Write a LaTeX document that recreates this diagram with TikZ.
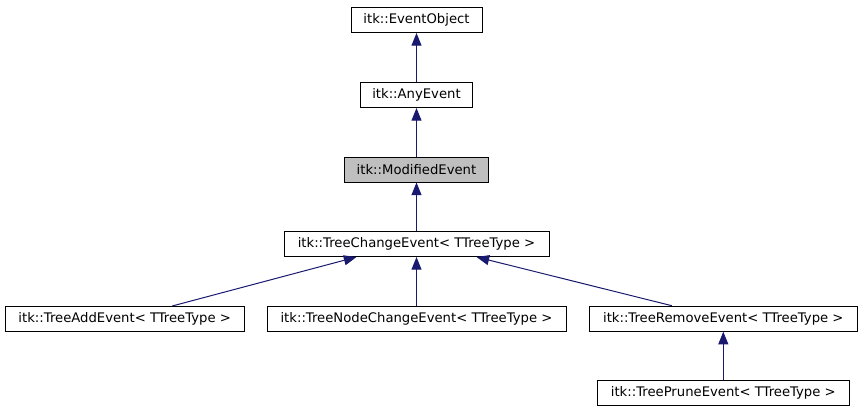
\documentclass[tikz,border=0pt]{standalone}
\usepackage{fontspec}
\setmainfont{DejaVu Sans}
\usetikzlibrary{arrows.meta,calc}
\definecolor{edgeblue}{HTML}{191970}
\definecolor{hilite}{HTML}{BFBFBF}
\begin{document}
\begin{tikzpicture}[x=0.75pt,y=-0.75pt,
  cls/.style={draw=black,line width=0.75pt,fill=white,inner sep=0pt,
    minimum height=18.75pt,font=\fontsize{9.9pt}{11pt}\selectfont},
  arr/.style={draw=edgeblue,line width=0.75pt,-{Triangle[length=9.5pt,width=7.5pt]},color=edgeblue}]
\useasboundingbox (0,0) rectangle (861,411);
\node[cls,minimum width=98.25pt] (eo) at (416.5,20) {itk::EventObject};
\node[cls,minimum width=84pt] (any) at (416.5,95) {itk::AnyEvent};
\node[cls,minimum width=108pt,fill=hilite] (mod) at (416.5,169.5) {itk::ModifiedEvent};
\node[cls,minimum width=198.75pt] (tce) at (416.5,244) {itk::TreeChangeEvent< TTreeType >};
\node[cls,minimum width=179.25pt] (add) at (124.7,319) {itk::TreeAddEvent< TTreeType >};
\node[cls,minimum width=224.25pt] (nce) at (416.5,318.5) {itk::TreeNodeChangeEvent< TTreeType >};
\node[cls,minimum width=201pt] (rem) at (723.3,318.7) {itk::TreeRemoveEvent< TTreeType >};
\node[cls,minimum width=189pt] (pru) at (723.3,393) {itk::TreePruneEvent< TTreeType >};
\draw[arr] (any.north) -- (eo.south);
\draw[arr] (mod.north) -- (any.south);
\draw[arr] (tce.north) -- (mod.south);
\draw[arr] ($(add.north)+(47.5,0)$) -- ($(tce.south)+(-60,0)$);
\draw[arr] (nce.north) -- (tce.south);
\draw[arr] ($(rem.north)+(-51.5,0)$) -- ($(tce.south)+(60,0)$);
\draw[arr] (pru.north) -- (rem.south);
\end{tikzpicture}
\end{document}
